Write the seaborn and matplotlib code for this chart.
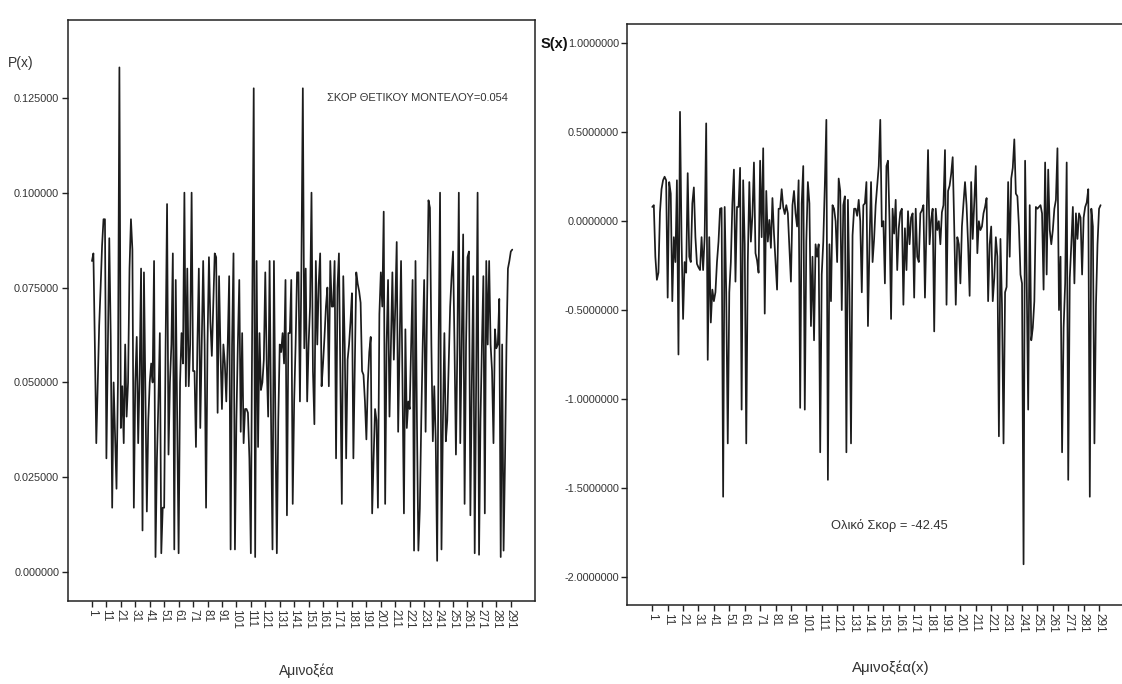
import numpy as np
import pandas as pd
import matplotlib
matplotlib.use("Agg")
import matplotlib.pyplot as plt
import seaborn as sns

# P(x) per amino acid position (left panel)
p_values = [
    0.082, 0.084, 0.060, 0.034, 0.050, 0.065, 0.075, 0.086, 0.093, 0.093,
    0.030, 0.060, 0.088, 0.062, 0.017, 0.050, 0.036, 0.022, 0.050, 0.133,
    0.038, 0.049, 0.034, 0.060, 0.041, 0.050, 0.080, 0.093, 0.085, 0.017,
    0.050, 0.062, 0.034, 0.052, 0.080, 0.011, 0.079, 0.047, 0.016, 0.040,
    0.050, 0.055, 0.050, 0.082, 0.004, 0.030, 0.045, 0.063, 0.005, 0.017,
    0.017, 0.060, 0.097, 0.031, 0.050, 0.060, 0.084, 0.006, 0.077, 0.040,
    0.005, 0.050, 0.063, 0.055, 0.100, 0.049, 0.080, 0.049, 0.060, 0.100,
    0.053, 0.053, 0.033, 0.060, 0.080, 0.038, 0.060, 0.082, 0.060, 0.017,
    0.060, 0.083, 0.066, 0.057, 0.070, 0.084, 0.083, 0.042, 0.078, 0.058,
    0.043, 0.060, 0.055, 0.045, 0.060, 0.078, 0.006, 0.060, 0.084, 0.006,
    0.040, 0.060, 0.077, 0.037, 0.063, 0.034, 0.043, 0.043, 0.042, 0.030,
    0.005, 0.070, 0.1275, 0.004, 0.082, 0.033, 0.063, 0.048, 0.050, 0.056,
    0.079, 0.055, 0.041, 0.082, 0.040, 0.006, 0.082, 0.040, 0.005, 0.040,
    0.060, 0.058, 0.063, 0.055, 0.077, 0.015, 0.063, 0.063, 0.077, 0.018,
    0.045, 0.060, 0.079, 0.079, 0.045, 0.080, 0.1275, 0.059, 0.080, 0.045,
    0.060, 0.070, 0.100, 0.053, 0.039, 0.082, 0.060, 0.076, 0.084, 0.049,
    0.055, 0.062, 0.070, 0.075, 0.049, 0.082, 0.070, 0.070, 0.082, 0.030,
    0.075, 0.084, 0.050, 0.018, 0.078, 0.060, 0.030, 0.056, 0.060, 0.066,
    0.0735, 0.030, 0.055, 0.079, 0.076, 0.074, 0.071, 0.053, 0.052, 0.045,
    0.035, 0.050, 0.058, 0.062, 0.0155, 0.030, 0.043, 0.040, 0.017, 0.068,
    0.079, 0.070, 0.095, 0.018, 0.060, 0.077, 0.041, 0.060, 0.079, 0.056,
    0.070, 0.087, 0.037, 0.060, 0.082, 0.050, 0.0155, 0.064, 0.038, 0.045,
    0.043, 0.060, 0.077, 0.0057, 0.082, 0.040, 0.0057, 0.0167, 0.040, 0.060,
    0.077, 0.037, 0.070, 0.098, 0.096, 0.060, 0.0345, 0.049, 0.035, 0.003,
    0.060, 0.100, 0.006, 0.040, 0.063, 0.0345, 0.040, 0.055, 0.070, 0.078,
    0.0845, 0.060, 0.031, 0.060, 0.100, 0.034, 0.060, 0.089, 0.018, 0.060,
    0.083, 0.0845, 0.015, 0.050, 0.078, 0.005, 0.050, 0.100, 0.0046, 0.040,
    0.060, 0.078, 0.0155, 0.082, 0.060, 0.082, 0.060, 0.053, 0.034, 0.064,
    0.059, 0.060, 0.072, 0.004, 0.060, 0.0057, 0.030, 0.060, 0.080, 0.082,
    0.0845, 0.085,
]

# S(x) per amino acid position (right panel)
s_values = [
    0.08, 0.09, -0.20, -0.33, -0.29, 0.05, 0.18, 0.23, 0.25, 0.23,
    -0.43, 0.22, 0.155, -0.45, -0.09, -0.23, 0.23, -0.75, 0.615, -0.10,
    -0.55, -0.23, -0.29, 0.27, -0.20, -0.23, 0.10, 0.19, -0.09, -0.24,
    -0.26, -0.275, -0.09, -0.275, -0.09, 0.55, -0.78, -0.09, -0.57, -0.385,
    -0.45, -0.40, -0.23, -0.115, 0.07, 0.074, -1.55, 0.08, -0.40, -1.25,
    -0.40, -0.23, 0.10, 0.29, -0.34, 0.08, 0.08, 0.30, -1.06, 0.23,
    -0.13, -1.25, -0.23, 0.22, -0.115, 0.03, 0.33, -0.18, -0.22, -0.29,
    0.34, -0.09, 0.41, -0.52, 0.17, -0.115, 0.007, -0.15, 0.13, -0.07,
    -0.23, -0.385, 0.07, 0.07, 0.18, 0.08, 0.04, 0.09, 0.044, -0.15,
    -0.34, 0.09, 0.17, 0.044, -0.03, 0.23, -1.05, 0.10, 0.31, -1.06,
    -0.115, 0.22, 0.10, -0.59, -0.20, -0.67, -0.13, -0.20, -0.13, -1.30,
    -0.30, -0.115, 0.20, 0.57, -1.455, -0.13, -0.45, 0.09, 0.07, 0.00,
    -0.23, 0.24, 0.17, -0.50, 0.09, 0.14, -1.30, 0.12, -0.40, -1.25,
    -0.08, 0.07, 0.07, 0.03, 0.12, 0.00, -0.40, 0.09, 0.10, 0.22,
    -0.59, -0.13, 0.22, -0.23, -0.10, 0.09, 0.20, 0.31, 0.57, -0.03,
    0.00, -0.35, 0.31, 0.34, 0.00, -0.55, 0.07, -0.07, 0.12, -0.275,
    -0.04, 0.05, 0.07, -0.47, -0.04, -0.275, 0.056, -0.13, 0.02, 0.044,
    -0.43, 0.07, -0.20, -0.23, 0.044, 0.06, 0.09, -0.43, 0.00, 0.40,
    -0.13, 0.007, 0.07, -0.62, 0.07, -0.05, 0.00, -0.13, 0.05, 0.09,
    0.40, -0.47, 0.17, 0.20, 0.265, 0.36, -0.03, -0.47, -0.09, -0.13,
    -0.35, -0.03, 0.10, 0.22, 0.09, -0.13, -0.42, 0.22, -0.10, 0.10,
    0.31, -0.18, 0.00, -0.05, -0.03, 0.044, 0.08, 0.13, -0.45, -0.13,
    -0.03, -0.45, -0.32, -0.09, -0.20, -1.21, -0.10, -0.47, -1.25, -0.40,
    -0.37, 0.22, -0.20, 0.24, 0.30, 0.46, 0.155, 0.14, -0.03, -0.30,
    -0.35, -1.93, 0.34, -0.30, -1.06, 0.09, -0.67, -0.60, -0.45, 0.08,
    0.07, 0.08, 0.09, 0.044, -0.385, 0.33, -0.30, 0.29, -0.05, -0.13,
    -0.05, 0.07, 0.12, 0.41, -0.50, -0.20, -1.30, -0.60, -0.35, 0.33,
    -1.455, -0.32, -0.13, 0.08, -0.35, 0.044, -0.10, 0.044, 0.02, -0.30,
    0.02, 0.08, 0.105, 0.18, -1.55, 0.07, -0.03, -1.25, -0.47, -0.13,
    0.07, 0.09,
]

positions = list(range(1, len(p_values) + 1))
tick_positions = list(range(1, 292, 10))
tick_labels = [str(t) for t in tick_positions]
p_yticks = [0.0, 0.025, 0.05, 0.075, 0.1, 0.125]
s_yticks = [-2.0, -1.5, -1.0, -0.5, 0.0, 0.5, 1.0]

left_note = "ΣΚΟΡ ΘΕΤΙΚΟΥ ΜΟΝΤΕΛΟΥ=0.054"
right_note = "Ολικό Σκορ = -42.45"

df = pd.DataFrame({"pos": positions, "P": p_values, "S": s_values})

sns.set_theme(style="ticks")
plt.rcParams["font.family"] = ["Liberation Sans", "DejaVu Sans"]
plt.rcParams["axes.linewidth"] = 1.1
plt.rcParams["axes.edgecolor"] = "#222222"

line_color = "#1c1c1c"
text_color = "#333333"

fig = plt.figure(figsize=(11.22, 6.84), dpi=100)
fig.patch.set_facecolor("white")

ax1 = fig.add_axes([0.0602, 0.1218, 0.4167, 0.849])
ax2 = fig.add_axes([0.5591, 0.1155, 0.4409, 0.8494])

sns.lineplot(data=df, x="pos", y="P", ax=ax1, color=line_color, linewidth=1.25)
sns.lineplot(data=df, x="pos", y="S", ax=ax2, color=line_color, linewidth=1.25)

ax1.set_xlim(-15.9, 307.8)
ax1.set_ylim(-0.0075, 0.1455)
ax2.set_xlim(-15.2, 305.9)
ax2.set_ylim(-2.159, 1.109)

ax1.set_yticks(p_yticks)
ax1.set_yticklabels([f"{v:.6f}" for v in p_yticks])
ax2.set_yticks(s_yticks)
ax2.set_yticklabels([f"{v:.7f}" for v in s_yticks])

for ax in (ax1, ax2):
    ax.set_xticks(tick_positions)
    ax.set_xticklabels(tick_labels, rotation=270, fontsize=8.5, color=text_color)
    ax.tick_params(axis="both", direction="out", length=4, width=1, color="#222222", pad=2)
    ax.tick_params(axis="y", labelsize=7.8, labelcolor=text_color)
    ax.set_xlabel("")
    ax.set_ylabel("")
    ax.set_facecolor("white")

ax2.spines["right"].set_visible(False)

ax1.text(164, 0.125, left_note, fontsize=8.0, color=text_color, va="center", ha="left")
ax2.text(155, -1.71, right_note, fontsize=9.3, color=text_color, va="center", ha="center")

fig.text(21 / 1122, 1 - 63 / 684, "P(x)", fontsize=10, color=text_color, ha="center", va="center")
fig.text(554 / 1122, 1 - 44 / 684, "S(x)", fontsize=10.5, fontweight="bold", color="#111111",
         ha="center", va="center")
fig.text(307 / 1122, 1 - 671 / 684, "Αμινοξέα", fontsize=10, color=text_color, ha="center", va="center")
fig.text(891 / 1122, 1 - 668 / 684, "Αμινοξέα(x)", fontsize=10.8, color=text_color, ha="center", va="center")

fig.savefig("out.png", dpi=100, facecolor="white")
plt.close(fig)
